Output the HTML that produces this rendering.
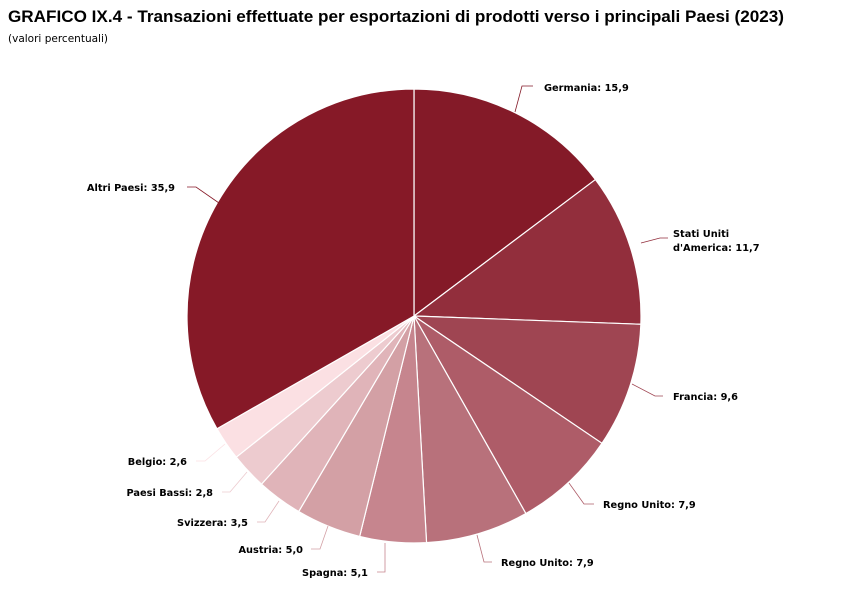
<!DOCTYPE html>
<html><head><meta charset="utf-8"><style>
body{margin:0;background:#fff;width:850px;height:600px;overflow:hidden}
svg text{font-family:"DejaVu Sans",sans-serif;font-weight:bold;font-size:9.8px;fill:#000}
</style></head><body>
<svg id="s" width="850" height="600" xmlns="http://www.w3.org/2000/svg">
<text x="8" y="22" textLength="776" lengthAdjust="spacingAndGlyphs" style="font-family:'Liberation Sans',sans-serif;font-size:17px">GRAFICO IX.4 - Transazioni effettuate per esportazioni di prodotti verso i principali Paesi (2023)</text>
<text x="8" y="42" textLength="100" lengthAdjust="spacingAndGlyphs" style="font-family:'DejaVu Sans',sans-serif;font-weight:normal;font-size:11px">(valori percentuali)</text>
<g id="pie"></g>
<g fill="none" stroke-width="0.8">
<polyline stroke="#841a28" points="515,112 522,86 533,86"/>
<polyline stroke="#922e3c" points="641,243 660,238 668,238"/>
<polyline stroke="#9f4552" points="632,384 655,396 663,396"/>
<polyline stroke="#ae5c68" points="569,483 584,504 594,504"/>
<polyline stroke="#b8717b" points="477,535 484,562 492,562"/>
<polyline stroke="#c6858e" points="385,543 385,572 377,572"/>
<polyline stroke="#d3a0a5" points="328,526 320,549 311,549"/>
<polyline stroke="#e0b4b9" points="279,501 265,522 257,522"/>
<polyline stroke="#edcbcf" points="247,472 230,492 222,492"/>
<polyline stroke="#fbe0e3" points="225,444 205,461 196,461"/>
<polyline stroke="#861927" points="219,203 196,187 187,187"/>
</g>
<text x="544" y="91">Germania: 15,9</text>
<text x="673" y="237">Stati Uniti</text>
<text x="673" y="251">d'America: 11,7</text>
<text x="673" y="400">Francia: 9,6</text>
<text x="603" y="508">Regno Unito: 7,9</text>
<text x="501" y="566">Regno Unito: 7,9</text>
<text x="368" y="576" text-anchor="end">Spagna: 5,1</text>
<text x="303" y="553" text-anchor="end">Austria: 5,0</text>
<text x="248" y="526" text-anchor="end">Svizzera: 3,5</text>
<text x="213" y="496" text-anchor="end">Paesi Bassi: 2,8</text>
<text x="187" y="465" text-anchor="end">Belgio: 2,6</text>
<text x="175" y="191" text-anchor="end">Altri Paesi: 35,9</text>
</svg>
<script>
var v=[15.9,11.7,9.6,7.9,7.9,5.1,5.0,3.5,2.8,2.6,35.9];
var c=["#841a28","#922e3c","#9f4552","#ae5c68","#b8717b","#c6858e","#d3a0a5","#e0b4b9","#edcbcf","#fbe0e3","#861927"];
var t=v.reduce((a,b)=>a+b),cx=414,cy=316,r=227,a=0,h="";
for(var i=0;i<v.length;i++){var a2=a+v[i]/t*2*Math.PI;
var x1=cx+r*Math.sin(a),y1=cy-r*Math.cos(a),x2=cx+r*Math.sin(a2),y2=cy-r*Math.cos(a2);
h+='<path d="M'+cx+','+cy+'L'+x1+','+y1+'A'+r+','+r+' 0 '+(a2-a>Math.PI?1:0)+' 1 '+x2+','+y2+'Z" fill="'+c[i]+'" stroke="#fff" stroke-width="1.2"/>';a=a2;}
document.getElementById("pie").innerHTML=h;
</script>
</body></html>
